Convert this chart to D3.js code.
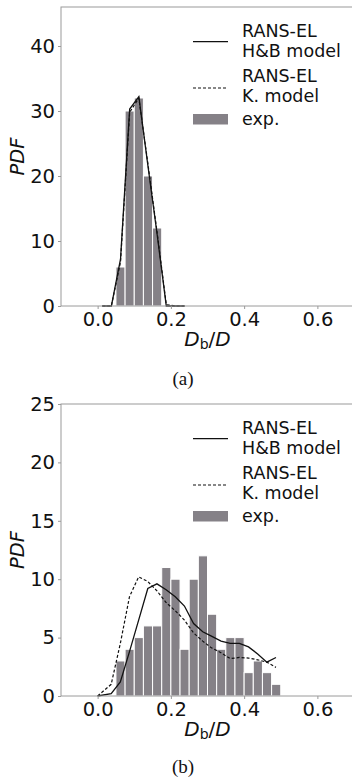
<!DOCTYPE html>
<html>
<head>
<meta charset="utf-8">
<script src="https://cdn.jsdelivr.net/npm/d3@7/dist/d3.min.js"></script>
<style>
  html, body { margin: 0; padding: 0; background: #fff; }
  svg { display: block; }
</style>
</head>
<body>
<svg id="fig" width="352" height="778" font-family="DejaVu Sans, sans-serif"></svg>
<script>
// Bubble-size histograms (bins of width 0.025 starting at 0.05)
const binStart = 0.05;
const binWidth = 0.025;
const expA = [6, 30, 32, 20, 12];
const expB = [3, 4, 5, 6, 6, 11, 10, 4, 10, 12, 7, 4, 5, 5, 2, 3, 2, 1];

// RANS-EL model curves, panel (a)
const xA = [0.0125, 0.0375, 0.0625, 0.0875, 0.1125, 0.1375, 0.1625, 0.1875, 0.2125, 0.2375];
const hbA = [0, 0, 7.2, 30.3, 32.2, 21.5, 11.0, 0, 0, 0];
const kA  = [0, 0, 6.8, 29.8, 32.0, 21.8, 11.3, 0.2, 0, 0];

// RANS-EL model curves, panel (b)
const xB = [0.0, 0.037, 0.062, 0.087, 0.112, 0.137, 0.162, 0.187, 0.212, 0.237,
            0.262, 0.287, 0.312, 0.337, 0.362, 0.387, 0.412, 0.437, 0.462, 0.487];
const hbB = [0, 0.2, 1.2, 3.8, 6.5, 9.2, 9.6, 9.1, 8.5, 7.7,
             6.2, 5.5, 5.1, 4.7, 4.5, 4.5, 4.2, 3.6, 2.9, 3.3];
const kB  = [0, 1.0, 4.5, 8.5, 10.2, 9.8, 9.0, 8.0, 7.3, 6.5,
             5.4, 4.7, 4.1, 3.7, 3.2, 3.3, 3.25, 3.1, 2.9, 2.45];

const xTicks = [0.0, 0.2, 0.4, 0.6];
const yTicksA = [0, 10, 20, 30, 40];
const yTicksB = [0, 5, 10, 15, 20, 25];
const legendLabels = [["RANS-EL", "H&B model"], ["RANS-EL", "K. model"], ["exp."]];
const captions = ["(a)", "(b)"];

const svg = d3.select("#fig");
const ink = "#111";
const spineColor = "#9a9a9a";
const barColor = "#858187";

function panel(opt) {
  const { top, bottom, yMax, yTicks, bars, xs, hb, k, caption, captionY } = opt;
  const left = 61, right = 354;
  const x = d3.scaleLinear().domain([-0.1, 0.7]).range([left, right]);
  const y = d3.scaleLinear().domain([0, yMax]).range([bottom, top]);
  const g = svg.append("g");

  // histogram bars
  g.selectAll("rect.bar").data(bars).join("rect")
    .attr("class", "bar")
    .attr("x", (d, i) => x(binStart + i * binWidth))
    .attr("width", (d, i) => x(binStart + (i + 1) * binWidth) - x(binStart + i * binWidth))
    .attr("y", d => y(d))
    .attr("height", d => y(0) - y(d))
    .attr("fill", barColor)
    .attr("stroke", "#fff")
    .attr("stroke-width", 1);

  const line = d3.line().x(d => x(d[0])).y(d => y(d[1]));
  g.append("path").datum(xs.map((v, i) => [v, k[i]]))
    .attr("d", line).attr("fill", "none").attr("stroke", ink)
    .attr("stroke-width", 1.2).attr("stroke-dasharray", "3,2");
  g.append("path").datum(xs.map((v, i) => [v, hb[i]]))
    .attr("d", line).attr("fill", "none").attr("stroke", ink)
    .attr("stroke-width", 1.3);

  // spines
  g.append("rect").attr("x", left).attr("y", top)
    .attr("width", right - left).attr("height", bottom - top)
    .attr("fill", "none").attr("stroke", spineColor).attr("stroke-width", 1);

  // axes
  const xAxis = d3.axisBottom(x).tickValues(xTicks).tickFormat(d3.format(".1f"))
    .tickSize(3).tickPadding(3);
  const gx = g.append("g").attr("transform", `translate(0,${bottom})`).call(xAxis);
  const yAxis = d3.axisLeft(y).tickValues(yTicks).tickFormat(d3.format("d"))
    .tickSize(3).tickPadding(3);
  const gy = g.append("g").attr("transform", `translate(${left},0)`).call(yAxis);
  [gx, gy].forEach(a => {
    a.attr("font-size", 19.5).attr("font-family", "DejaVu Sans, sans-serif");
    a.select(".domain").remove();
    a.selectAll(".tick line").attr("stroke", spineColor);
    a.selectAll(".tick text").attr("fill", ink);
  });

  // axis titles
  const xl = g.append("text").attr("x", (left + right) / 2).attr("y", bottom + 40)
    .attr("text-anchor", "middle").attr("font-size", 20).attr("fill", ink);
  xl.append("tspan").attr("font-style", "italic").text("D");
  xl.append("tspan").attr("font-size", 14).attr("dy", 3).text("b");
  xl.append("tspan").attr("dy", -3).text("/");
  xl.append("tspan").attr("font-style", "italic").text("D");

  g.append("text")
    .attr("transform", `translate(24,${(top + bottom) / 2}) rotate(-90)`)
    .attr("text-anchor", "middle").attr("font-size", 19.5).attr("fill", ink)
    .attr("font-style", "italic").text("PDF");

  // legend
  const lx0 = 193, lx1 = 228, tx = 242;
  const lg = g.append("g").attr("font-size", 17.5).attr("fill", ink);
  lg.append("line").attr("x1", lx0).attr("x2", lx1)
    .attr("y1", top + 34.7).attr("y2", top + 34.7)
    .attr("stroke", ink).attr("stroke-width", 1.3);
  lg.append("line").attr("x1", lx0).attr("x2", lx1)
    .attr("y1", top + 81).attr("y2", top + 81)
    .attr("stroke", ink).attr("stroke-width", 1.2).attr("stroke-dasharray", "3,2");
  lg.append("rect").attr("x", lx0).attr("y", top + 107)
    .attr("width", lx1 - lx0).attr("height", 10.5).attr("fill", barColor);
  const rows = [[top + 30, top + 50], [top + 74.5, top + 94.5], [top + 117.5]];
  legendLabels.forEach((lines, i) => {
    lines.forEach((t, j) => {
      lg.append("text").attr("x", tx).attr("y", rows[i][j]).text(t);
    });
  });

  // caption
  svg.append("text").attr("x", 183).attr("y", captionY)
    .attr("text-anchor", "middle").attr("font-size", 19).attr("fill", ink)
    .attr("font-family", "Liberation Serif, serif").text(caption);
}

panel({ top: 7, bottom: 306, yMax: 46, yTicks: yTicksA, bars: expA,
        xs: xA, hb: hbA, k: kA, caption: captions[0], captionY: 385 });
panel({ top: 404, bottom: 696, yMax: 25, yTicks: yTicksB, bars: expB,
        xs: xB, hb: hbB, k: kB, caption: captions[1], captionY: 773 });
</script>
</body>
</html>
